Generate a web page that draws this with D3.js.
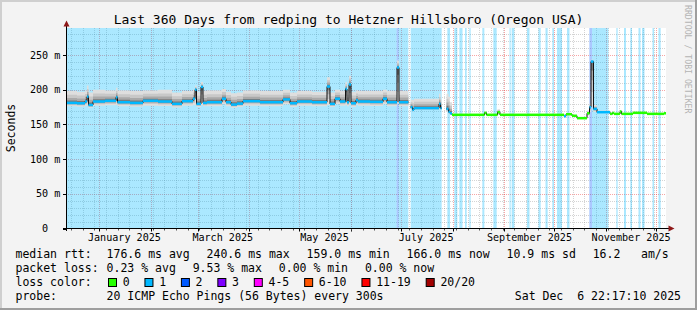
<!DOCTYPE html>
<html>
<head>
<meta charset="utf-8">
<script src="https://cdn.jsdelivr.net/npm/d3@7"></script>
<style>
  body { margin: 0; background: #fff; }
  svg text { font-family: "DejaVu Sans Mono", monospace; fill: #000; }
</style>
</head>
<body>
<div id="chart"></div>
<script>
// graph window
const endTime = new Date(2025, 11, 6, 22, 17, 10);
const spanDays = 360;

// median rtt (ms) per step, day = days since window start, hi/lo = outer pings (smoke)
const medDays = [0, 6.6, 11.4, 12.6, 13.5, 16.2, 23.4, 30.0, 30.9, 38.4, 46.2, 55.2, 63.6, 69.6, 76.2, 77.4, 78.3, 81.0, 82.2, 84.6,
  93.6, 96.0, 99.0, 102.6, 106.2, 116.4, 130.2, 134.4, 138.6, 147.6, 156.6, 158.4, 161.4, 164.4, 167.7, 168.6, 169.8, 171.0, 174.0, 175.2,
  182.4, 190.2, 192.6, 198.6, 199.8, 205.4, 206.8, 207.9, 208.8, 223.8, 224.7, 225.4, 228.3, 229.5, 230.4, 231.6, 251.1, 252.3, 258.9, 260.4,
  298.8, 300.0, 303.6, 306.6, 312.6, 314.1, 315.0, 316.5, 318.6, 326.4, 327.9, 328.8, 332.4, 333.3, 340.2, 348.6, 358.8, 360];
const medMs = [181, 180.5, 183, 190, 178, 183, 184, 189, 182, 181, 184, 183, 179.6, 183.5, 187, 200, 179.6, 204, 181, 182,
  187, 182, 178.6, 180, 183.5, 182, 186, 180.5, 183, 182, 204.6, 179.6, 187, 183, 201, 182, 207.5, 180.5, 185, 183,
  182.5, 187, 182, 232, 182, null, 174.8, 171, 173.4, 179.6, 173.4, null, 172.4, 168, 166, 163.8, 166.7, 163.8, 167.6, 163.8,
  161.8, 164.7, 162.4, 159, 166, 174.8, 240.6, 172.4, 167.6, 165.2, 166.5, 165.2, 168.6, 165.2, 166.7, 165.2, 166, 166];
const hiMs = [198, 197, 199, 206, 196, 200, 199, 203, 199, 198, 199, 200, 196, 198, 200, 206, 197, 211, 198, 199,
  201, 197, 195, 196, 199, 198, 200, 196, 198, 197, 218, 196, 200, 198, 211, 198, 220, 197, 199, 198,
  198, 200, 198, 242, 198, null, 186, 185, 187, 194, 186, null, 194, 190, 182, 165, 168, 165, 172, 165,
  164, 166, 164, 160.5, 170, 180, 243, 178, 170, 166.5, 168, 166.5, 170, 166.5, 168, 166.5, 167, 167];
const loMs = [176, 175.5, 177, 177, 174, 177, 177.5, 178, 176, 175.5, 177, 176.5, 174.5, 177, 178, 178, 175, 178, 176, 176,
  179, 176, 174, 175, 177, 176, 179, 175, 177, 176, 178, 175, 179, 177, 178, 176, 178, 175, 178, 177,
  176.5, 179, 176, 180, 176, null, 172, 169, 171, 172, 171, null, 168, 165, 164, 163.2, 164, 163.2, 164, 163.2,
  161, 164, 161.8, 158.4, 163, 168, 176, 168, 166.5, 164.6, 165, 164.6, 165, 164.6, 166, 164.6, 165.4, 165.4];
const medLoss = [1, 1, 1, 1, 1, 1, 1, 1, 1, 1, 1, 1, 1, 1, 1, 1, 1, 1, 1, 1,
  1, 1, 1, 1, 1, 1, 1, 1, 1, 1, 1, 1, 1, 1, 1, 1, 1, 1, 1, 1,
  1, 1, 1, 1, 1, 1, 1, 1, 1, 1, 1, 1, 1, 1, 1, 0, 0, 0, 0, 0,
  1, 0, 0, 0, 0, 1, 1, 1, 1, 0, 0, 0, 0, 0, 0, 0, 0, 0];

// packet loss background bands (days since window start)
const bandFrom = [0, 198.4, 199.6, 206.8, 228.8, 233.0, 236.0, 239.4, 242.0, 249.8, 256.4, 266.1, 267.4, 276.6, 283.5, 287.7,
  291.8, 294.6, 300.6, 314.0, 315.6, 330.2, 334.8, 338.6, 343.5, 345.6, 351.9, 355.5];
const bandTo = [198.4, 199.6, 205.4, 225.4, 230.4, 234.8, 237.9, 240.4, 242.8, 251.0, 258.4, 266.8, 269.0, 278.1, 284.8, 289.0,
  292.8, 297.6, 302.1, 315.6, 325.4, 331.0, 336.0, 339.6, 344.7, 347.1, 352.8, 356.8];
const bandLoss = [1, 2, 1, 1, 1, 1, 1, 1, 1, 1, 1, 1, 1, 1, 1, 1, 1, 1, 1, 2, 1, 1, 1, 1, 1, 1, 1, 1];

const lossLabels = ['0', '1', '2', '3', '4-5', '6-10', '11-19', '20/20'];
const lossColors = ['#26ff00', '#00b8ff', '#0059ff', '#7e00ff', '#ff00ff', '#ff5500', '#ff0000', '#a10000'];

const yTicks = [0, 50, 100, 150, 200, 250];
const rttStats = ['176.6 ms avg', '240.6 ms max', '159.0 ms min', '166.0 ms now', '10.9 ms sd', '16.2'];
const lossStats = ['0.23 % avg', '9.53 % max', '0.00 % min', '0.00 % now'];

const W = 697, H = 310;
const svg = d3.select('#chart').append('svg')
  .attr('width', W).attr('height', H);

// frame
svg.append('rect').attr('width', W).attr('height', H).attr('fill', '#f3f3f3');
svg.append('path').attr('d', `M1,${H} V1 H${W}`).attr('stroke', '#cfcfcf').attr('stroke-width', 2).attr('fill', 'none');
svg.append('path').attr('d', `M0,${H - 1} H${W - 1} V0`).attr('stroke', '#9e9e9e').attr('stroke-width', 2).attr('fill', 'none');

const startTime = new Date(+endTime - spanDays * 864e5);
const dayDate = d => new Date(+startTime + d * 864e5);
const x = d3.scaleTime().domain([startTime, endTime]).range([66, 666]);
const y = d3.scaleLinear().domain([0, 288.2]).range([228.5, 28.5]);
const px = v => Math.round(v) + 0.5;

// canvas
svg.append('rect').attr('x', 66).attr('y', 28).attr('width', 600).attr('height', 200).attr('fill', '#fff');

// grid
const minorGrid = 'rgba(120,120,120,0.32)', majorGrid = 'rgba(235,40,40,0.42)';
const grid = svg.append('g').attr('fill', 'none').attr('stroke-dasharray', '1,1');
d3.range(10, 290, 10).filter(v => v % 50 !== 0).forEach(v => {
  grid.append('line').attr('x1', 66).attr('x2', 666).attr('y1', px(y(v))).attr('y2', px(y(v)))
    .attr('stroke', minorGrid);
});
const weeks = d3.timeSunday.range(startTime, endTime);
weeks.forEach(t => {
  grid.append('line').attr('x1', px(x(t))).attr('x2', px(x(t))).attr('y1', 28).attr('y2', 228)
    .attr('stroke', minorGrid);
});
yTicks.filter(v => v > 0).forEach(v => {
  grid.append('line').attr('x1', 66).attr('x2', 666).attr('y1', px(y(v))).attr('y2', px(y(v)))
    .attr('stroke', majorGrid);
});
const months = d3.timeMonth.range(startTime, endTime);
months.forEach(t => {
  grid.append('line').attr('x1', px(x(t))).attr('x2', px(x(t))).attr('y1', 28).attr('y2', 228)
    .attr('stroke', majorGrid);
});

// loss background
svg.append('g').selectAll('rect')
  .data(bandFrom.map((f, i) => ({ from: f, to: bandTo[i], loss: bandLoss[i] })))
  .enter().append('rect')
  .attr('x', d => x(dayDate(d.from)))
  .attr('width', d => x(dayDate(d.to)) - x(dayDate(d.from)))
  .attr('y', 28).attr('height', 200)
  .attr('fill', d => lossColors[d.loss])
  .attr('fill-opacity', 0.33);

// step points
const rows = medDays.map((d, i) => ({ day: d, med: medMs[i], hi: hiMs[i], lo: loMs[i], loss: medLoss[i] }));
const steps = [];
for (let i = 0; i < rows.length - 1; i++) {
  if (rows[i].med == null) { steps.push({ day: rows[i].day, r: rows[i], gap: true }); continue; }
  steps.push({ day: rows[i].day, r: rows[i] }, { day: rows[i + 1].day, r: rows[i] });
}

// smoke, light outside to dark next to the median
const smokeLayers = [[1, '#dedede'], [0.68, '#c8c8c8'], [0.42, '#a9a9a9'], [0.2, '#7a7a7a']];
smokeLayers.forEach(([f, c]) => {
  const area = d3.area()
    .defined(p => !p.gap)
    .x(p => x(dayDate(p.day)))
    .y0(p => y(p.r.med - (p.r.med - p.r.lo) * f))
    .y1(p => y(p.r.med + (p.r.hi - p.r.med) * f));
  svg.append('path').attr('d', area(steps)).attr('fill', c);
});

// median
const medLine = d3.line()
  .defined(p => !p.gap)
  .x(p => x(dayDate(p.day)))
  .y(p => y(p.r.med));
svg.append('path').attr('d', medLine(steps)).attr('fill', 'none').attr('stroke', '#111').attr('stroke-width', 1);

svg.append('g').selectAll('rect')
  .data(rows.slice(0, -1).map((r, i) => ({ ...r, next: rows[i + 1].day })).filter(r => r.med != null))
  .enter().append('rect')
  .attr('x', d => x(dayDate(d.day)))
  .attr('width', d => x(dayDate(d.next)) - x(dayDate(d.day)))
  .attr('y', d => y(d.med) - 1.25)
  .attr('height', 2.5)
  .attr('fill', d => lossColors[d.loss]);

// axes
const axis = svg.append('g').attr('stroke', '#000').attr('fill', 'none');
axis.append('line').attr('x1', 63).attr('x2', 669).attr('y1', 228.5).attr('y2', 228.5);
axis.append('line').attr('x1', 66.5).attr('x2', 66.5).attr('y1', 231).attr('y2', 25);
yTicks.forEach(v => {
  axis.append('line').attr('x1', 63).attr('x2', 66).attr('y1', px(y(v))).attr('y2', px(y(v)));
});
months.forEach(t => {
  axis.append('line').attr('x1', px(x(t))).attr('x2', px(x(t))).attr('y1', 229).attr('y2', 231.5);
});
weeks.forEach(t => {
  axis.append('line').attr('x1', px(x(t))).attr('x2', px(x(t))).attr('y1', 229).attr('y2', 230.5)
    .attr('stroke', '#555');
});
svg.append('path').attr('d', 'M66.5,20.5 L63.5,26.5 L69.5,26.5 Z').attr('fill', '#8e1818');
svg.append('path').attr('d', 'M674.5,228.5 L668.5,225.5 L668.5,231.5 Z').attr('fill', '#8e1818');

// y tick labels
const yl = svg.append('g').style('font-size', '10.1px');
yTicks.forEach(v => {
  yl.append('text').attr('x', 48.2).attr('y', y(v) + 3.6).attr('text-anchor', 'end').text(v);
  if (v > 0) yl.append('text').attr('x', 54.3).attr('y', y(v) + 3.6).text('m');
});

// x labels
const fmt = d3.timeFormat('%B %Y');
svg.append('g').style('font-size', '10.1px').selectAll('text')
  .data(d3.timeMonth.every(2).range(startTime, endTime))
  .enter().append('text')
  .attr('x', t => x(new Date(+t + 15 * 864e5)))
  .attr('y', 241)
  .attr('text-anchor', 'middle')
  .text(fmt);

// title, axis title, watermark
svg.append('text').attr('x', 348.5).attr('y', 24).attr('text-anchor', 'middle').style('font-size', '13px')
  .text('Last 360 Days from redping to Hetzner Hillsboro (Oregon USA)');
svg.append('text').attr('transform', 'translate(15,128) rotate(-90)').attr('text-anchor', 'middle')
  .style('font-size', '11.5px').text('Seconds');
svg.append('text').attr('transform', 'translate(685,5) rotate(90)').style('font-size', '8.2px')
  .style('fill', '#b4b4b4').text('RRDTOOL / TOBI OETIKER');

// legend
const lg = svg.append('g').style('font-size', '11.5px');
const cw = 6.95, gap = 16.6;
lg.append('text').attr('x', 15.5).attr('y', 258).text('median rtt:');
let cx = 106.6;
rttStats.forEach(s => {
  lg.append('text').attr('x', cx).attr('y', 258).text(s);
  cx += s.length * cw + gap;
});
lg.append('text').attr('x', 641).attr('y', 258).text('am/s');

lg.append('text').attr('x', 15.5).attr('y', 272).text('packet loss:');
cx = 106.6;
lossStats.forEach(s => {
  lg.append('text').attr('x', cx).attr('y', 272).text(s);
  cx += s.length * cw + gap;
});

lg.append('text').attr('x', 15.5).attr('y', 286).text('loss color:');
cx = 108.5;
lossLabels.forEach((s, i) => {
  lg.append('rect').attr('x', cx).attr('y', 278.5).attr('width', 8).attr('height', 8)
    .attr('fill', lossColors[i]).attr('stroke', '#000').attr('stroke-width', 1);
  lg.append('text').attr('x', cx + 14.2).attr('y', 286).text(s);
  cx += 14.2 + s.length * cw + 15.3;
});

lg.append('text').attr('x', 15.5).attr('y', 300).text('probe:');
lg.append('text').attr('x', 106.6).attr('y', 300).text('20 ICMP Echo Pings (56 Bytes) every 300s');
lg.append('text').attr('x', 681).attr('y', 300).attr('text-anchor', 'end').style('white-space', 'pre')
  .text('Sat Dec  6 22:17:10 2025');
</script>
</body>
</html>
